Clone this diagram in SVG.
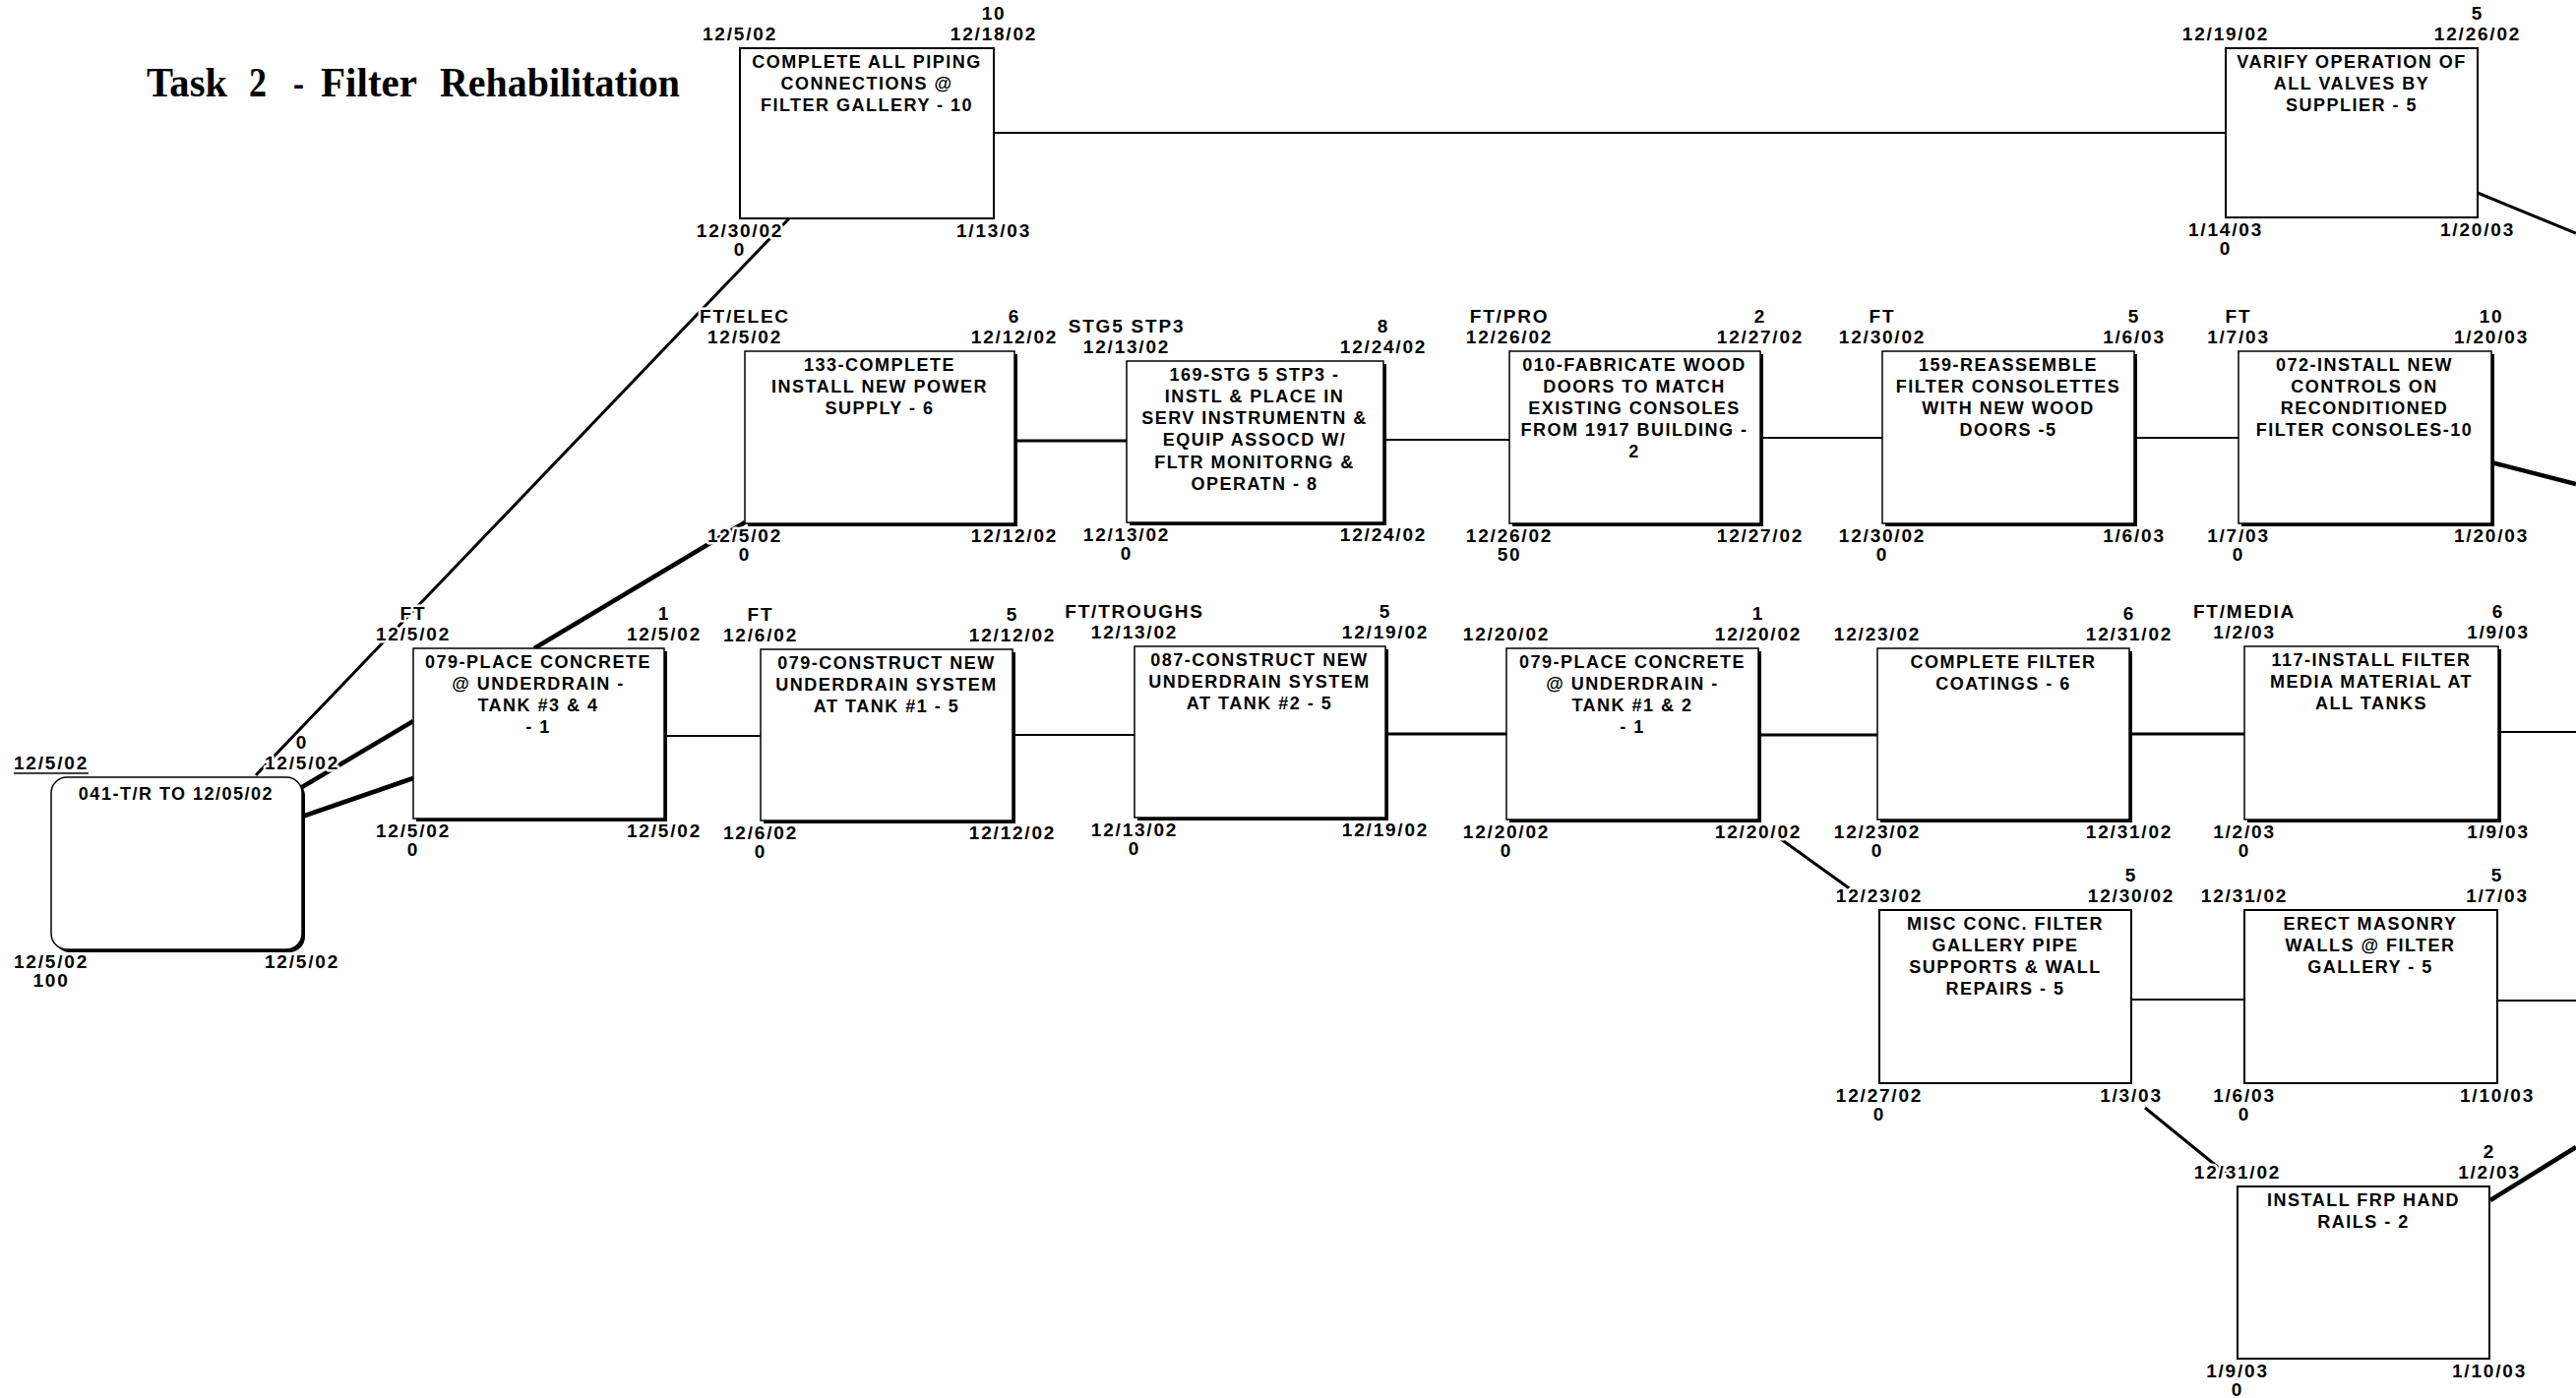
<svg xmlns="http://www.w3.org/2000/svg" width="2618" height="1421" viewBox="0 0 2618 1421">
<style>
.lb{font-family:'Liberation Sans',Arial,sans-serif;font-weight:bold;font-size:19px;letter-spacing:1.8px;text-anchor:middle;fill:#000;paint-order:stroke;stroke:#fff;stroke-width:5px;stroke-linejoin:round}
.nt{font-family:'Liberation Sans',Arial,sans-serif;font-weight:bold;font-size:18px;letter-spacing:1.5px;text-anchor:middle;fill:#000}
.bx{fill:#fff;stroke:#000;stroke-width:1.5}
.bt{fill:#fff;stroke:#000;stroke-width:2}
.sh{fill:#000}
.c{stroke:#000;stroke-width:2;fill:none}
.m{stroke-width:3}
.k{stroke-width:4.5}
.title{font-family:'Liberation Serif','Times New Roman',serif;font-weight:bold;font-size:42px;fill:#000}
</style>
<rect width="2618" height="1421" fill="#fff"/>
<text class="title" y="98"><tspan x="149" textLength="82" lengthAdjust="spacingAndGlyphs">Task</tspan><tspan x="253" textLength="18" lengthAdjust="spacingAndGlyphs">2</tspan><tspan x="298" textLength="11" lengthAdjust="spacingAndGlyphs">-</tspan><tspan x="326" textLength="98" lengthAdjust="spacingAndGlyphs">Filter</tspan><tspan x="447" textLength="244" lengthAdjust="spacingAndGlyphs">Rehabilitation</tspan></text>

<g id="connectors">
<line class="c" x1="1010" y1="135" x2="2262" y2="135"/>
<line class="c m" x1="2518" y1="196" x2="2618" y2="237"/>
<line class="c m" x1="260" y1="788" x2="802" y2="222"/>
<line class="c k" x1="307" y1="800" x2="420" y2="733"/>
<line class="c k" x1="307" y1="830" x2="420" y2="791"/>
<line class="c k" x1="543" y1="659" x2="757" y2="531"/>
<line class="c" x1="675" y1="748" x2="773" y2="748"/>
<line class="c m" x1="1031" y1="448" x2="1145" y2="448"/>
<line class="c" x1="1406" y1="447" x2="1534" y2="447"/>
<line class="c" x1="1789" y1="445" x2="1913" y2="445"/>
<line class="c" x1="2169" y1="445" x2="2275" y2="445"/>
<line class="c k" x1="2532" y1="470" x2="2618" y2="492"/>
<line class="c" x1="1029" y1="747" x2="1153" y2="747"/>
<line class="c m" x1="1408" y1="746" x2="1531" y2="746"/>
<line class="c m" x1="1787" y1="747" x2="1908" y2="747"/>
<line class="c m" x1="2164" y1="746" x2="2281" y2="746"/>
<line class="c" x1="2539" y1="744" x2="2618" y2="744"/>
<line class="c m" x1="1810" y1="853" x2="1892" y2="912"/>
<line class="c" x1="2166" y1="1016" x2="2281" y2="1016"/>
<line class="c" x1="2538" y1="1017" x2="2618" y2="1017"/>
<line class="c m" x1="2180" y1="1126" x2="2266" y2="1196"/>
<line class="c k" x1="2531" y1="1220" x2="2618" y2="1166"/>
</g>

<g id="n041">
<rect class="sh" x="55" y="793" width="255" height="175" rx="16"/>
<rect class="bx" x="52" y="790" width="255" height="175" rx="16"/>
<text class="nt" x="179" y="813">041-T/R TO 12/05/02</text>
<text class="lb" x="52" y="782">12/5/02</text>
<line x1="14" y1="786" x2="90" y2="786" stroke="#000" stroke-width="1.5"/>
<text class="lb" x="307" y="761">0</text>
<text class="lb" x="307" y="782">12/5/02</text>
<text class="lb" x="52" y="984">12/5/02</text>
<text class="lb" x="52" y="1003">100</text>
<text class="lb" x="307" y="984">12/5/02</text>
</g>

<g id="n079a">
<rect class="sh" x="423" y="662" width="255" height="173"/>
<rect class="bx" x="420" y="659" width="255" height="173"/>
<text class="nt" x="547" y="679">079-PLACE CONCRETE</text>
<text class="nt" x="547" y="701">@ UNDERDRAIN -</text>
<text class="nt" x="547" y="723">TANK #3 &amp; 4</text>
<text class="nt" x="547" y="745">- 1</text>
<text class="lb" x="420" y="630">FT</text>
<text class="lb" x="420" y="651">12/5/02</text>
<text class="lb" x="675" y="630">1</text>
<text class="lb" x="675" y="651">12/5/02</text>
<text class="lb" x="420" y="851">12/5/02</text>
<text class="lb" x="420" y="870">0</text>
<text class="lb" x="675" y="851">12/5/02</text>
</g>

<g id="npiping">
<rect class="bt" x="752" y="49" width="258" height="173"/>
<text class="nt" x="881" y="69">COMPLETE ALL PIPING</text>
<text class="nt" x="881" y="91">CONNECTIONS @</text>
<text class="nt" x="881" y="113">FILTER GALLERY - 10</text>
<text class="lb" x="752" y="41">12/5/02</text>
<text class="lb" x="1010" y="20">10</text>
<text class="lb" x="1010" y="41">12/18/02</text>
<text class="lb" x="752" y="241">12/30/02</text>
<text class="lb" x="752" y="260">0</text>
<text class="lb" x="1010" y="241">1/13/03</text>
</g>

<g id="nvarify">
<rect class="bt" x="2262" y="49" width="256" height="172"/>
<text class="nt" x="2390" y="69">VARIFY OPERATION OF</text>
<text class="nt" x="2390" y="91">ALL VALVES BY</text>
<text class="nt" x="2390" y="113">SUPPLIER - 5</text>
<text class="lb" x="2262" y="41">12/19/02</text>
<text class="lb" x="2518" y="20">5</text>
<text class="lb" x="2518" y="41">12/26/02</text>
<text class="lb" x="2262" y="240">1/14/03</text>
<text class="lb" x="2262" y="259">0</text>
<text class="lb" x="2518" y="240">1/20/03</text>
</g>

<g id="n133">
<rect class="sh" x="760" y="360" width="274" height="175"/>
<rect class="bx" x="757" y="357" width="274" height="175"/>
<text class="nt" x="894" y="377">133-COMPLETE</text>
<text class="nt" x="894" y="399">INSTALL NEW POWER</text>
<text class="nt" x="894" y="421">SUPPLY - 6</text>
<text class="lb" x="757" y="328">FT/ELEC</text>
<text class="lb" x="757" y="349">12/5/02</text>
<text class="lb" x="1031" y="328">6</text>
<text class="lb" x="1031" y="349">12/12/02</text>
<text class="lb" x="757" y="551">12/5/02</text>
<text class="lb" x="757" y="570">0</text>
<text class="lb" x="1031" y="551">12/12/02</text>
</g>

<g id="n169">
<rect class="sh" x="1148" y="370" width="261" height="164"/>
<rect class="bx" x="1145" y="367" width="261" height="164"/>
<text class="nt" x="1275" y="387">169-STG 5 STP3 -</text>
<text class="nt" x="1275" y="409">INSTL &amp; PLACE IN</text>
<text class="nt" x="1275" y="431">SERV INSTRUMENTN &amp;</text>
<text class="nt" x="1275" y="453">EQUIP ASSOCD W/</text>
<text class="nt" x="1275" y="476">FLTR MONITORNG &amp;</text>
<text class="nt" x="1275" y="498">OPERATN - 8</text>
<text class="lb" x="1145" y="338">STG5 STP3</text>
<text class="lb" x="1145" y="359">12/13/02</text>
<text class="lb" x="1406" y="338">8</text>
<text class="lb" x="1406" y="359">12/24/02</text>
<text class="lb" x="1145" y="550">12/13/02</text>
<text class="lb" x="1145" y="569">0</text>
<text class="lb" x="1406" y="550">12/24/02</text>
</g>

<g id="n010">
<rect class="sh" x="1537" y="360" width="255" height="175"/>
<rect class="bx" x="1534" y="357" width="255" height="175"/>
<text class="nt" x="1661" y="377">010-FABRICATE WOOD</text>
<text class="nt" x="1661" y="399">DOORS TO MATCH</text>
<text class="nt" x="1661" y="421">EXISTING CONSOLES</text>
<text class="nt" x="1661" y="443">FROM 1917 BUILDING -</text>
<text class="nt" x="1661" y="465">2</text>
<text class="lb" x="1534" y="328">FT/PRO</text>
<text class="lb" x="1534" y="349">12/26/02</text>
<text class="lb" x="1789" y="328">2</text>
<text class="lb" x="1789" y="349">12/27/02</text>
<text class="lb" x="1534" y="551">12/26/02</text>
<text class="lb" x="1534" y="570">50</text>
<text class="lb" x="1789" y="551">12/27/02</text>
</g>

<g id="n159">
<rect class="sh" x="1916" y="360" width="256" height="175"/>
<rect class="bx" x="1913" y="357" width="256" height="175"/>
<text class="nt" x="2041" y="377">159-REASSEMBLE</text>
<text class="nt" x="2041" y="399">FILTER CONSOLETTES</text>
<text class="nt" x="2041" y="421">WITH NEW WOOD</text>
<text class="nt" x="2041" y="443">DOORS -5</text>
<text class="lb" x="1913" y="328">FT</text>
<text class="lb" x="1913" y="349">12/30/02</text>
<text class="lb" x="2169" y="328">5</text>
<text class="lb" x="2169" y="349">1/6/03</text>
<text class="lb" x="1913" y="551">12/30/02</text>
<text class="lb" x="1913" y="570">0</text>
<text class="lb" x="2169" y="551">1/6/03</text>
</g>

<g id="n072">
<rect class="sh" x="2278" y="360" width="257" height="175"/>
<rect class="bx" x="2275" y="357" width="257" height="175"/>
<text class="nt" x="2403" y="377">072-INSTALL NEW</text>
<text class="nt" x="2403" y="399">CONTROLS ON</text>
<text class="nt" x="2403" y="421">RECONDITIONED</text>
<text class="nt" x="2403" y="443">FILTER CONSOLES-10</text>
<text class="lb" x="2275" y="328">FT</text>
<text class="lb" x="2275" y="349">1/7/03</text>
<text class="lb" x="2532" y="328">10</text>
<text class="lb" x="2532" y="349">1/20/03</text>
<text class="lb" x="2275" y="551">1/7/03</text>
<text class="lb" x="2275" y="570">0</text>
<text class="lb" x="2532" y="551">1/20/03</text>
</g>

<g id="n079b">
<rect class="sh" x="776" y="663" width="256" height="174"/>
<rect class="bx" x="773" y="660" width="256" height="174"/>
<text class="nt" x="901" y="680">079-CONSTRUCT NEW</text>
<text class="nt" x="901" y="702">UNDERDRAIN SYSTEM</text>
<text class="nt" x="901" y="724">AT TANK #1 - 5</text>
<text class="lb" x="773" y="631">FT</text>
<text class="lb" x="773" y="652">12/6/02</text>
<text class="lb" x="1029" y="631">5</text>
<text class="lb" x="1029" y="652">12/12/02</text>
<text class="lb" x="773" y="853">12/6/02</text>
<text class="lb" x="773" y="872">0</text>
<text class="lb" x="1029" y="853">12/12/02</text>
</g>

<g id="n087">
<rect class="sh" x="1156" y="660" width="255" height="174"/>
<rect class="bx" x="1153" y="657" width="255" height="174"/>
<text class="nt" x="1280" y="677">087-CONSTRUCT NEW</text>
<text class="nt" x="1280" y="699">UNDERDRAIN SYSTEM</text>
<text class="nt" x="1280" y="721">AT TANK #2 - 5</text>
<text class="lb" x="1153" y="628">FT/TROUGHS</text>
<text class="lb" x="1153" y="649">12/13/02</text>
<text class="lb" x="1408" y="628">5</text>
<text class="lb" x="1408" y="649">12/19/02</text>
<text class="lb" x="1153" y="850">12/13/02</text>
<text class="lb" x="1153" y="869">0</text>
<text class="lb" x="1408" y="850">12/19/02</text>
</g>

<g id="n079c">
<rect class="sh" x="1534" y="662" width="256" height="174"/>
<rect class="bx" x="1531" y="659" width="256" height="174"/>
<text class="nt" x="1659" y="679">079-PLACE CONCRETE</text>
<text class="nt" x="1659" y="701">@ UNDERDRAIN -</text>
<text class="nt" x="1659" y="723">TANK #1 &amp; 2</text>
<text class="nt" x="1659" y="745">- 1</text>
<text class="lb" x="1531" y="651">12/20/02</text>
<text class="lb" x="1787" y="630">1</text>
<text class="lb" x="1787" y="651">12/20/02</text>
<text class="lb" x="1531" y="852">12/20/02</text>
<text class="lb" x="1531" y="871">0</text>
<text class="lb" x="1787" y="852">12/20/02</text>
</g>

<g id="ncoat">
<rect class="sh" x="1911" y="662" width="256" height="174"/>
<rect class="bx" x="1908" y="659" width="256" height="174"/>
<text class="nt" x="2036" y="679">COMPLETE FILTER</text>
<text class="nt" x="2036" y="701">COATINGS - 6</text>
<text class="lb" x="1908" y="651">12/23/02</text>
<text class="lb" x="2164" y="630">6</text>
<text class="lb" x="2164" y="651">12/31/02</text>
<text class="lb" x="1908" y="852">12/23/02</text>
<text class="lb" x="1908" y="871">0</text>
<text class="lb" x="2164" y="852">12/31/02</text>
</g>

<g id="n117">
<rect class="sh" x="2284" y="660" width="258" height="176"/>
<rect class="bx" x="2281" y="657" width="258" height="176"/>
<text class="nt" x="2410" y="677">117-INSTALL FILTER</text>
<text class="nt" x="2410" y="699">MEDIA MATERIAL AT</text>
<text class="nt" x="2410" y="721">ALL TANKS</text>
<text class="lb" x="2281" y="628">FT/MEDIA</text>
<text class="lb" x="2281" y="649">1/2/03</text>
<text class="lb" x="2539" y="628">6</text>
<text class="lb" x="2539" y="649">1/9/03</text>
<text class="lb" x="2281" y="852">1/2/03</text>
<text class="lb" x="2281" y="871">0</text>
<text class="lb" x="2539" y="852">1/9/03</text>
</g>

<g id="nmisc">
<rect class="bt" x="1910" y="925" width="256" height="176"/>
<text class="nt" x="2038" y="945">MISC CONC. FILTER</text>
<text class="nt" x="2038" y="967">GALLERY PIPE</text>
<text class="nt" x="2038" y="989">SUPPORTS &amp; WALL</text>
<text class="nt" x="2038" y="1011">REPAIRS - 5</text>
<text class="lb" x="1910" y="917">12/23/02</text>
<text class="lb" x="2166" y="896">5</text>
<text class="lb" x="2166" y="917">12/30/02</text>
<text class="lb" x="1910" y="1120">12/27/02</text>
<text class="lb" x="1910" y="1139">0</text>
<text class="lb" x="2166" y="1120">1/3/03</text>
</g>

<g id="nerect">
<rect class="bt" x="2281" y="925" width="257" height="176"/>
<text class="nt" x="2409" y="945">ERECT MASONRY</text>
<text class="nt" x="2409" y="967">WALLS @ FILTER</text>
<text class="nt" x="2409" y="989">GALLERY - 5</text>
<text class="lb" x="2281" y="917">12/31/02</text>
<text class="lb" x="2538" y="896">5</text>
<text class="lb" x="2538" y="917">1/7/03</text>
<text class="lb" x="2281" y="1120">1/6/03</text>
<text class="lb" x="2281" y="1139">0</text>
<text class="lb" x="2538" y="1120">1/10/03</text>
</g>

<g id="nfrp">
<rect class="bt" x="2274" y="1206" width="256" height="175"/>
<text class="nt" x="2402" y="1226">INSTALL FRP HAND</text>
<text class="nt" x="2402" y="1248">RAILS - 2</text>
<text class="lb" x="2274" y="1198">12/31/02</text>
<text class="lb" x="2530" y="1177">2</text>
<text class="lb" x="2530" y="1198">1/2/03</text>
<text class="lb" x="2274" y="1400">1/9/03</text>
<text class="lb" x="2274" y="1419">0</text>
<text class="lb" x="2530" y="1400">1/10/03</text>
</g>
</svg>
